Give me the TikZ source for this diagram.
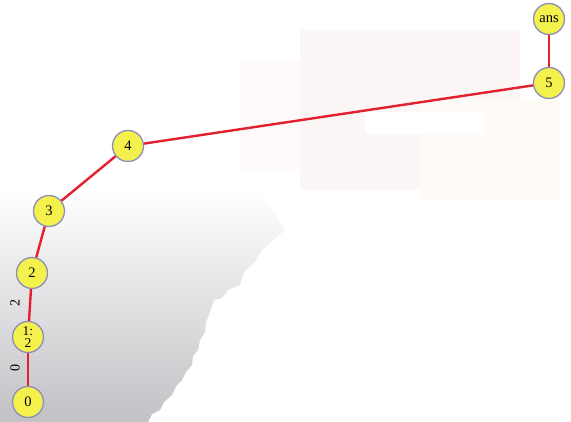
\documentclass[tikz,border=0pt]{standalone}
\usepackage{fontspec}
\setmainfont{Liberation Serif}
\definecolor{nodefill}{HTML}{F4F04C}
\definecolor{nodeborder}{HTML}{8C8EBE}
\definecolor{edgered}{HTML}{E2202E}
\definecolor{bggray}{HTML}{C2C2C6}
\definecolor{bgmid}{HTML}{EEEEEF}
\definecolor{pinkish}{HTML}{FDF6F6}
\definecolor{creamish}{HTML}{FEFBF6}
\begin{document}
\begin{tikzpicture}[x=1pt,y=-1pt,
  vtx/.style={circle, draw=nodeborder, line width=1.3pt, fill=nodefill,
    minimum size=31pt, inner sep=0pt, font=\fontsize{14.5}{14.5}\selectfont},
  edgeline/.style={draw=edgered, line width=2.4pt},
  elabel/.style={font=\fontsize{14}{14}\selectfont, rotate=90, inner sep=0pt}]
\useasboundingbox (0,0) rectangle (571,422);
\fill[white] (0,0) rectangle (571,422);
% faint background patches
\fill[pinkish] (300,30) rectangle (520,190);
\fill[pinkish!60!white] (240,60) rectangle (300,170);
\fill[creamish] (420,100) rectangle (560,200);
\fill[white] (365,112) rectangle (485,134);
% gray area lower left
\shade[top color=white, middle color=bgmid, bottom color=bggray]
  (0,190) -- (260,190) -- (285,230) -- (262,250) -- (255,262) -- (244,272)
  -- (240,285) -- (228,290) -- (222,298) -- (214,300) -- (210,312)
  -- (206,322) -- (205,332) -- (200,340) -- (198,350) -- (193,356)
  -- (192,365) -- (186,372) -- (182,380) -- (176,386) -- (172,395)
  -- (164,402) -- (160,410) -- (152,414) -- (148,422) -- (0,422) -- cycle;
% nodes
\node[vtx] (n0) at (28,402) {0};
\node[vtx, align=center, font=\fontsize{13.5}{12}\selectfont] (n1) at (28,337) {1:\\2};
\node[vtx] (n2) at (32,273) {2};
\node[vtx] (n3) at (49,211) {3};
\node[vtx] (n4) at (128,146) {4};
\node[vtx] (n5) at (549,83) {5};
\node[vtx] (ans) at (549,19) {ans};
% edges
\draw[edgeline] (n0) -- (n1);
\draw[edgeline] (n1) -- (n2);
\draw[edgeline] (n2) -- (n3);
\draw[edgeline] (n3) -- (n4);
\draw[edgeline] (n4) -- (n5);
\draw[edgeline] (n5) -- (ans);
% edge labels
\node[elabel] (l2) at (15,303) {2};
\node[elabel] (l0) at (15,368) {0};
\end{tikzpicture}
\end{document}
